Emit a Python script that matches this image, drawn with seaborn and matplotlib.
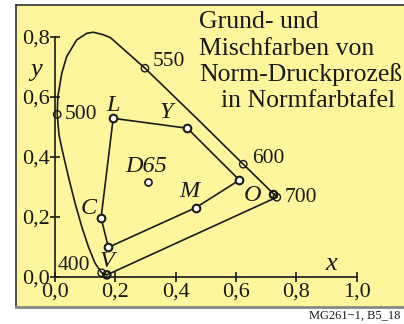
import matplotlib
matplotlib.use("Agg")
import matplotlib.pyplot as plt
import seaborn as sns

# spectral locus, from 380 nm up to 700 nm
locus_x = [0.173, 0.156, 0.134, 0.112, 0.090, 0.068, 0.046, 0.027, 0.015, 0.009,
           0.011, 0.024, 0.040, 0.073, 0.106, 0.128, 0.160, 0.185, 0.299, 0.470,
           0.624, 0.690, 0.735]
locus_y = [0.006, 0.013, 0.045, 0.100, 0.167, 0.245, 0.333, 0.415, 0.472, 0.541,
           0.600, 0.678, 0.733, 0.789, 0.811, 0.815, 0.807, 0.797, 0.695, 0.528,
           0.375, 0.310, 0.265]

# purple line
purple_x = [0.735, 0.173]
purple_y = [0.265, 0.006]

# wavelength marks
wl_labels = ["400", "500", "550", "600", "700"]
wl_x = [0.156, 0.009, 0.299, 0.624, 0.735]
wl_y = [0.013, 0.541, 0.695, 0.375, 0.265]

# print colours (closed polygon)
print_names = ["L", "Y", "O", "M", "V", "C"]
print_x = [0.194, 0.439, 0.611, 0.467, 0.178, 0.154]
print_y = [0.528, 0.495, 0.322, 0.230, 0.098, 0.196]

# corner marks of the purple line
corner_x = [0.173, 0.724]
corner_y = [0.006, 0.274]

white_x = [0.309]
white_y = [0.315]
white_name = "D65"

x_ticks = [0.0, 0.2, 0.4, 0.6, 0.8, 1.0]
x_tick_labels = ["0,0", "0,2", "0,4", "0,6", "0,8", "1,0"]
y_ticks = [0.0, 0.2, 0.4, 0.6, 0.8]
y_tick_labels = ["0,0", "0,2", "0,4", "0,6", "0,8"]

title_lines = ["Grund- und", "Mischfarben von", "Norm-Druckprozeß", "in Normfarbtafel"]

sns.set_style("ticks")
plt.rcParams["font.family"] = ["Liberation Serif", "DejaVu Serif"]

ink = "#1a1a1a"
yellow = "#fff59d"

fig = plt.figure(figsize=(4.04, 3.24), dpi=100)

# yellow frame
bg = fig.add_axes([16 / 404, 17 / 324, 392 / 404, 302 / 324])
bg.set_facecolor(yellow)
bg.set_xticks([])
bg.set_yticks([])
for s in ["top", "left", "right"]:
    bg.spines[s].set_color("#333333")
    bg.spines[s].set_linewidth(1.2)
bg.spines["bottom"].set_color("#888888")
bg.spines["bottom"].set_linewidth(2.0)

ax = fig.add_axes([16 / 404, 17 / 324, 388 / 404, 302 / 324])
ax.set_facecolor("none")
ax.set_xlim(-0.1273, 1.1554)
ax.set_ylim(-0.101, 0.9057)

# locus + purple line
sns.lineplot(x=locus_x, y=locus_y, sort=False, estimator=None, color=ink, lw=1.2, ax=ax)
sns.lineplot(x=purple_x, y=purple_y, sort=False, estimator=None, color=ink, lw=1.2, ax=ax)

# print gamut polygon
px = print_x + print_x[:1]
py = print_y + print_y[:1]
sns.lineplot(x=px, y=py, sort=False, estimator=None, color=ink, lw=1.2, ax=ax)

ax.scatter(wl_x, wl_y, s=28, facecolor="none", edgecolor=ink, lw=1.0, zorder=4)
ax.scatter(corner_x, corner_y, s=28, facecolor="none", edgecolor=ink, lw=1.6, zorder=4)
ax.scatter(print_x, print_y, s=30, facecolor="white", edgecolor=ink, lw=1.5, zorder=5)
ax.scatter(white_x, white_y, s=26, facecolor="white", edgecolor=ink, lw=1.2, zorder=5)

# wavelength labels
wl_off = {"400": (-12, 7, "right"), "500": (7, 0, "left"), "550": (8, 7, "left"),
          "600": (9, 6, "left"), "700": (8, 0, "left")}
for lab, x, y in zip(wl_labels, wl_x, wl_y):
    dx, dy, ha = wl_off[lab]
    ax.annotate(lab, (x, y), xytext=(dx, dy), textcoords="offset pixels",
                ha=ha, va="center", fontsize=15.5, color=ink)

# print colour labels
name_off = {"L": (0, 13), "Y": (-21, 16), "O": (13, -15), "M": (-6, 16),
            "V": (-1, -14), "C": (-12, 9)}
for lab, x, y in zip(print_names, print_x, print_y):
    dx, dy = name_off[lab]
    ax.annotate(lab, (x, y), xytext=(dx, dy), textcoords="offset pixels",
                ha="center", va="center", fontsize=17.5, style="italic", color=ink)
ax.annotate(white_name, (white_x[0], white_y[0]), xytext=(-2, 16), textcoords="offset pixels",
            ha="center", va="center", fontsize=17.5, style="italic", color=ink)

# title block
title_y = [0.828, 0.739, 0.652, 0.565]
title_x = [0.478, 0.478, 0.478, 0.551]
for t, tx, ty in zip(title_lines, title_x, title_y):
    ax.text(tx, ty, t, ha="left", va="baseline", fontsize=18.5, color=ink)

# axes drawn as crossing lines
for s in ["top", "right"]:
    ax.spines[s].set_visible(False)
ax.spines["left"].set_position(("data", 0))
ax.spines["bottom"].set_position(("data", 0))
ax.spines["left"].set_bounds(0, 0.8)
ax.spines["bottom"].set_bounds(0, 1.0)
for s in ["left", "bottom"]:
    ax.spines[s].set_color(ink)
    ax.spines[s].set_linewidth(1.2)
ax.set_xticks(x_ticks)
ax.set_xticklabels(x_tick_labels)
ax.set_yticks(y_ticks)
ax.set_yticklabels(y_tick_labels)
ax.tick_params(axis="both", direction="inout", length=7, width=1.2, color=ink,
               labelsize=16, labelcolor=ink)
ax.tick_params(axis="x", pad=1)
ax.tick_params(axis="y", pad=0)

ax.text(0.916, 0.044, "x", ha="center", va="center", fontsize=19, style="italic", color=ink)
ax.text(-0.061, 0.689, "y", ha="center", va="center", fontsize=19, style="italic", color=ink)

fig.text(400 / 404, 1 - 319 / 324, "MG261\u22121, B5_18", ha="right", va="baseline",
         fontsize=9, color=ink)

fig.savefig("out.png", dpi=100)
